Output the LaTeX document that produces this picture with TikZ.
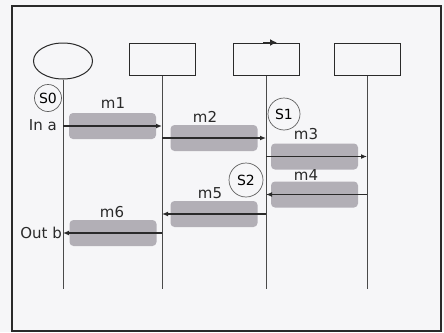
\documentclass[tikz,border=0pt]{standalone}
\usepackage{fontspec}
\setmainfont{DejaVu Sans}
\usetikzlibrary{arrows.meta, shapes.geometric}
\definecolor{lineDark}{HTML}{2A2A2A}
\definecolor{barGray}{RGB}{178,175,182}
\definecolor{paperBg}{RGB}{246,246,248}

\begin{document}
\begin{tikzpicture}[x=1pt, y=-1pt,
    obj/.style={rectangle, draw=lineDark, line width=1pt, minimum width=66pt,
                minimum height=32pt, inner sep=0pt},
    bar/.style={rectangle, rounded corners=4pt, fill=barGray, minimum width=87pt,
                minimum height=26pt, inner sep=0pt},
    st/.style={circle, draw=lineDark!75, line width=0.7pt, inner sep=0pt,
               font=\fontsize{14}{14}\selectfont},
    lbl/.style={font=\fontsize{15}{15}\selectfont, inner sep=0pt, text=lineDark},
    life/.style={lineDark!85, line width=0.9pt},
    msg/.style={-{Latex[length=6pt, width=5pt]}, lineDark, line width=1.2pt}
  ]
    \fill[paperBg] (0,0) rectangle (444,332);
    \useasboundingbox (0,0) rectangle (444,332);
    \draw[lineDark, line width=1.8pt] (12,6) rectangle (441,331);

    % objects and lifelines
    \node[ellipse, draw=lineDark, line width=1pt, minimum width=59pt,
          minimum height=36pt, inner sep=0pt] (o1) at (63,61) {};
    \node[obj] (o2) at (162,59) {};
    \node[obj] (o3) at (266,59) {};
    \node[obj] (o4) at (367,59) {};
    \coordinate (e1) at (63,289);
    \coordinate (e2) at (162,289);
    \coordinate (e3) at (266,289);
    \coordinate (e4) at (367,289);
    \draw[life] (o1) -- (e1);
    \draw[life] (o2) -- (e2);
    \draw[life] (o3) -- (e3);
    \draw[life] (o4) -- (e4);
    \draw[-{Latex[length=7pt, width=7pt]}, lineDark, line width=1.4pt]
      ([xshift=-3pt]o3.north) -- ([xshift=11pt]o3.north);

    % message bars
    \node[bar] (b1) at (112.5,126) {};
    \node[bar] (b2) at (214,138) {};
    \node[bar] (b3) at (314.5,156.5) {};
    \node[bar] (b4) at (314.5,194.5) {};
    \node[bar] (b5) at (214,214) {};
    \node[bar] (b6) at (113,233) {};

    \draw[msg] (o1 |- b1) -- (o2 |- b1);
    \draw[msg] (o2 |- b2) -- (o3 |- b2);
    \draw[msg] (o3 |- b3) -- (o4 |- b3);
    \draw[msg] (o4 |- b4) -- (o3 |- b4);
    \draw[msg] (o3 |- b5) -- (o2 |- b5);
    \draw[msg] (o2 |- b6) -- (o1 |- b6);

    \node[lbl] (t1) at (113,103) {m1};
    \node[lbl] (t2) at (205,117) {m2};
    \node[lbl] (t3) at (306,134) {m3};
    \node[lbl] (t4) at (306,175) {m4};
    \node[lbl] (t5) at (210,193) {m5};
    \node[lbl] (t6) at (112,212) {m6};
    \node[lbl, anchor=east] (ina) at (57,125) {In a};
    \node[lbl, anchor=east] (outb) at (62,233) {Out b};

    % states
    \node[st, minimum size=27pt] (s0) at (48,98) {S0};
    \node[st, minimum size=32pt] (s1) at (284,114) {S1};
    \node[st, minimum size=34pt] (s2) at (246,180) {S2};
  \end{tikzpicture}
\end{document}
